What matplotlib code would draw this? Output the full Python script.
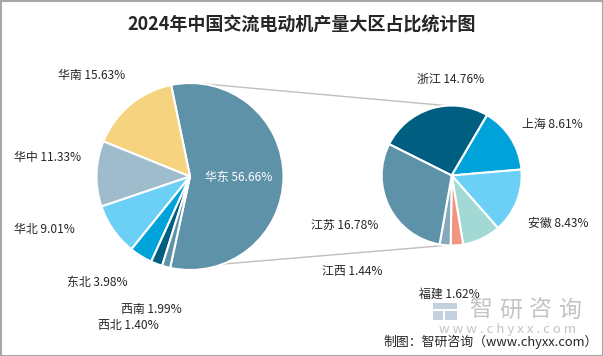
import numpy as np
import matplotlib
matplotlib.use("Agg")
import matplotlib.pyplot as plt
from matplotlib.patches import Rectangle

plt.rcParams['font.family'] = ['Noto Sans CJK SC', 'DejaVu Sans']

title = "2024年中国交流电动机产量大区占比统计图"

# main pie (share of national output, %)
main_labels = ["华东", "华南", "华中", "华北", "东北", "西南", "西北"]
main_values = [56.66, 15.63, 11.33, 9.01, 3.98, 1.99, 1.40]
main_colors = ["#5E92A8", "#F6D37E", "#9EBCCB", "#6CCFF6", "#00A3D9", "#005F80", "#5E92A8"]

# secondary pie: breakdown of 华东 (%)
sub_labels = ["浙江", "上海", "安徽", "", "福建", "江西", "江苏"]
sub_values = [14.76, 8.61, 8.43, 5.02, 1.62, 1.44, 16.78]
sub_colors = ["#005F80", "#00A3D9", "#6CCFF6", "#A3D9D5", "#F2957F", "#86A9BC", "#5E92A8"]

W, H = 603, 356
fig = plt.figure(figsize=(W / 100, H / 100), dpi=100)
ax = fig.add_axes([0, 0, 1, 1])

def Y(y):
    return H - y

# pies
c1, r1 = (190, Y(176.5)), 93.5
c2, r2 = (451.7, Y(175.5)), 70
wp = dict(edgecolor='white', linewidth=1.5)
ax.pie(main_values, colors=main_colors, startangle=-102.3, counterclock=True,
       center=c1, radius=r1, wedgeprops=wp, frame=True)
ax.pie(sub_values, colors=sub_colors, startangle=153.4, counterclock=False,
       center=c2, radius=r2, wedgeprops=wp, frame=True)
ax.set_xlim(0, W)
ax.set_ylim(0, H)
ax.set_aspect('equal')
ax.axis('off')

# connector lines
def pt(c, r, ang):
    a = np.deg2rad(ang)
    return c[0] + r * np.cos(a), c[1] + r * np.sin(a)

p1 = pt(c1, r1, 84)
q1 = pt(c2, r2, 94)
p2 = pt(c1, r1, -101)
q2 = pt(c2, r2, -94)
ax.plot([p1[0], q1[0]], [p1[1], q1[1]], color='#BFBFBF', lw=1, zorder=0)
ax.plot([p2[0], q2[0]], [p2[1], q2[1]], color='#BFBFBF', lw=1, zorder=0)

fs = 8.6
main_pos = [(238.7, 177.7), (92, 75), (48, 157.7), (44, 230), (97, 282.7), (151, 309), (128, 325)]
for i, (lab, v) in enumerate(zip(main_labels, main_values)):
    x, y = main_pos[i]
    col = 'white' if i == 0 else '#262626'
    ax.text(x, Y(y), f"{lab} {v:.2f}%", ha='center', va='center', fontsize=fs, color=col)

sub_pos = [(451, 79), (552, 124), (558, 223), None, (449.7, 294), (352, 271.7), (345, 225)]
for i, (lab, v) in enumerate(zip(sub_labels, sub_values)):
    if not lab:
        continue
    x, y = sub_pos[i]
    ax.text(x, Y(y), f"{lab} {v:.2f}%", ha='center', va='center', fontsize=fs, color='#262626', zorder=5)

# title
ax.text(W / 2, Y(24), title, ha='center', va='center', fontsize=13, fontweight='bold', color='#262626')

# watermark
ax.add_patch(Rectangle((433, Y(320)), 10, 9, color='#C3D1DE', lw=0, zorder=1))
ax.add_patch(Rectangle((445, Y(320)), 12, 9, color='#C3D1DE', lw=0, zorder=1))
ax.add_patch(Rectangle((433, Y(309)), 24, 6, color='#C3D1DE', lw=0, zorder=1))
for k, ch in enumerate("智研咨询"):
    ax.text(481 + k * 29.5, Y(310), ch, ha='center', va='center', fontsize=16.5, color='#C4C4C4', zorder=1)
ax.text(508, Y(329), "w w w . c h y x x . c o m", ha='center', va='center', fontsize=9.5,
        color='#C4C4C4', zorder=1)
ax.text(491, Y(342), "制图：智研咨询（www.chyxx.com）", ha='center', va='center', fontsize=9.3,
        color='#262626', zorder=6)

# border
ax.add_patch(Rectangle((0.5, 0.5), W - 1, H - 1, fill=False, edgecolor='#A6A6A6', lw=1.5, zorder=10))

fig.savefig("out.png", dpi=100)
